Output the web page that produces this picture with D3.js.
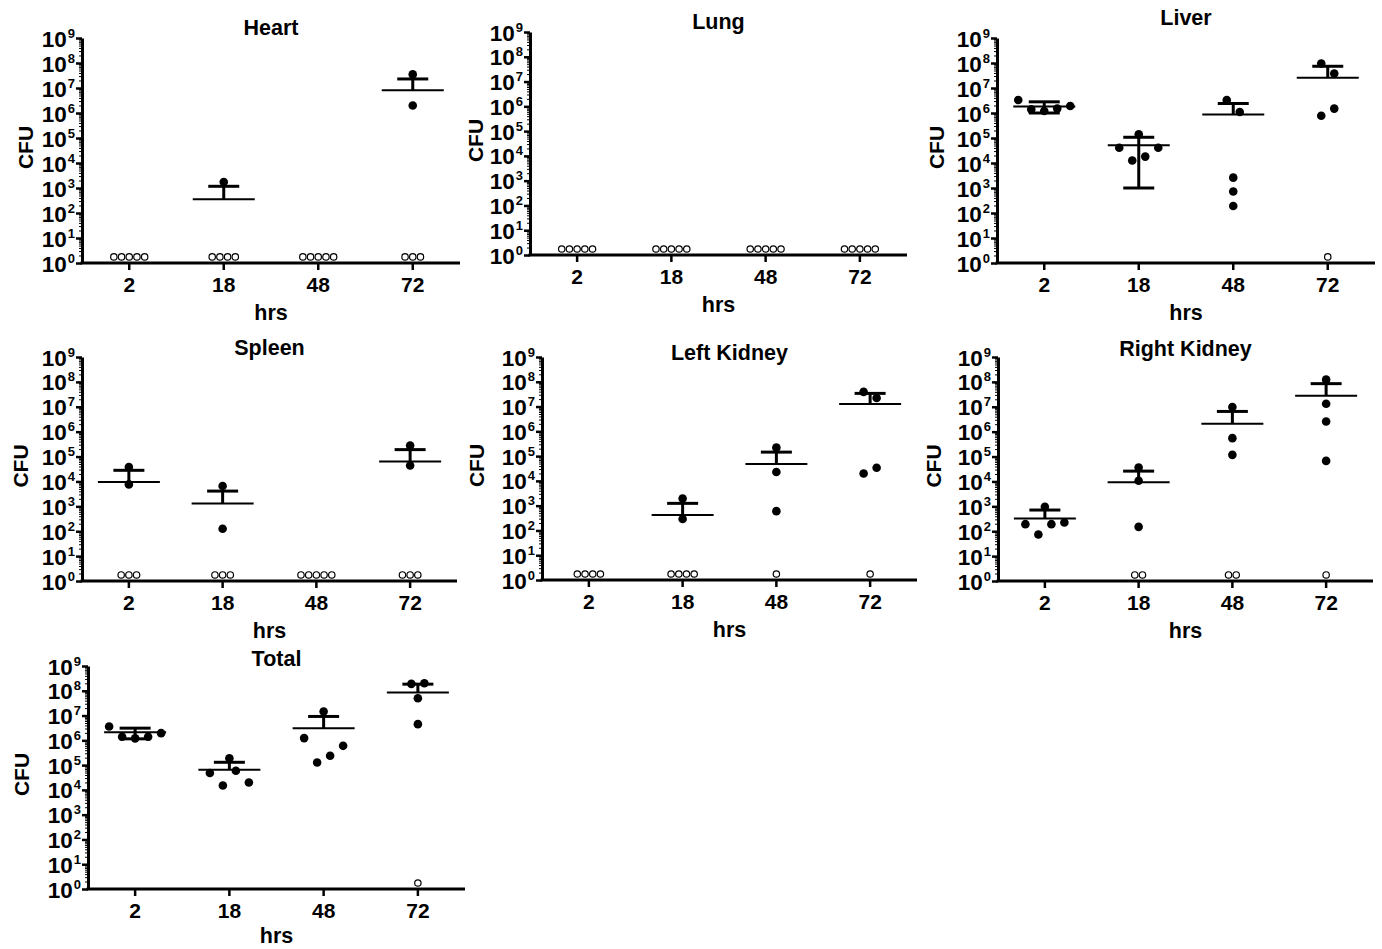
<!DOCTYPE html>
<html><head><meta charset="utf-8">
<script src="https://cdn.jsdelivr.net/npm/d3@7"></script>
<style>
body{margin:0;background:#fff;}
svg text{font-family:"Liberation Sans",Arial,sans-serif;font-weight:bold;fill:#000;}
</style>
</head><body>
<svg id="chart" width="1382" height="949"></svg>
<script>
// ---------------- data ----------------
const categories = ["2", "18", "48", "72"];
const xAxisLabel = "hrs";
const yAxisLabel = "CFU";
const yTickExponents = [0, 1, 2, 3, 4, 5, 6, 7, 8, 9];
const ndValue = 1.75; // culture-negative animals plotted just above 10^0

const panelTitles = ["Heart", "Lung", "Liver", "Spleen", "Left Kidney", "Right Kidney", "Total"];

const heartValues = [[], [1740], [], [3.5e7, 2.0e6]];
const heartND = [5, 4, 5, 3];
const heartMean = [null, 355, null, 8.1e6];
const heartUpper = [null, 1170, null, 2.3e7];
const heartLower = [null, null, null, null];

const lungValues = [[], [], [], []];
const lungND = [5, 5, 5, 5];
const lungMean = [null, null, null, null];
const lungUpper = [null, null, null, null];
const lungLower = [null, null, null, null];

const liverValues = [[3.3e6, 1.4e6, 1.2e6, 1.5e6, 1.9e6], [1.4e5, 4.1e4, 1.26e4, 1.8e4, 4.1e4], [3.3e6, 1.1e6, 2.6e3, 720, 190], [9.6e7, 3.8e7, 7.8e5, 1.5e6]];
const liverND = [0, 0, 0, 1];
const liverMean = [1.8e6, 5.1e4, 8.8e5, 2.6e7];
const liverUpper = [2.8e6, 1.07e5, 2.4e6, 7.4e7];
const liverLower = [1.0e6, 1.0e3, null, null];

const spleenValues = [[3.8e4, 7.6e3], [6.6e3, 126], [], [2.8e5, 4.4e4]];
const spleenND = [3, 3, 5, 3];
const spleenMean = [9.5e3, 1.3e3, null, 6.4e4];
const spleenUpper = [2.8e4, 4.1e3, null, 1.9e5];
const spleenLower = [null, null, null, null];

const leftKidneyValues = [[], [1960, 290], [2.2e5, 2.3e4, 600], [3.9e7, 2.2e7, 2.0e4, 3.4e4]];
const leftKidneyND = [4, 4, 1, 1];
const leftKidneyMean = [null, 420, 4.8e4, 1.26e7];
const leftKidneyUpper = [null, 1240, 1.45e5, 3.4e7];
const leftKidneyLower = [null, null, null, null];

const rightKidneyValues = [[960, 192, 74, 192, 225], [3.6e4, 1.07e4, 150], [9.8e6, 5.5e5, 1.17e5], [1.23e8, 1.32e7, 2.57e6, 6.7e4]];
const rightKidneyND = [0, 2, 2, 1];
const rightKidneyMean = [327, 9.3e3, 2.1e6, 2.8e7];
const rightKidneyUpper = [710, 2.6e4, 6.5e6, 8.5e7];
const rightKidneyLower = [null, null, null, null];

const totalValues = [[3.6e6, 1.4e6, 1.2e6, 1.4e6, 1.95e6], [1.9e5, 4.8e4, 1.5e4, 5.9e4, 2.0e4], [1.45e7, 1.23e6, 1.28e5, 2.4e5, 6.0e5], [1.9e8, 2.0e8, 5.0e7, 4.5e6]];
const totalND = [0, 0, 0, 1];
const totalMean = [2.1e6, 6.5e4, 3.1e6, 8.5e7];
const totalUpper = [3.1e6, 1.3e5, 9.2e6, 1.85e8];
const totalLower = [1.15e6, null, null, null];

// ---------------- layout (positions only) ----------------
const layout = [
  {x0: 82,  x1: 460,  yTop: 38,  yBot: 263, cfuOff: 49, titleDy: -3, hrsDy: 57},
  {x0: 530, x1: 907,  yTop: 32,  yBot: 255, cfuOff: 47, titleDy: -3, hrsDy: 57},
  {x0: 997, x1: 1375, yTop: 38,  yBot: 263, cfuOff: 53, titleDy: -13, hrsDy: 57},
  {x0: 82,  x1: 457,  yTop: 357, yBot: 581, cfuOff: 54, titleDy: -2, hrsDy: 57},
  {x0: 542, x1: 917,  yTop: 357, yBot: 580, cfuOff: 58, titleDy: 3, hrsDy: 57},
  {x0: 998, x1: 1373, yTop: 357, yBot: 581, cfuOff: 57, titleDy: -1, hrsDy: 57},
  {x0: 88,  x1: 465,  yTop: 666, yBot: 889, cfuOff: 59, titleDy: 0, hrsDy: 54}
];

const panels = [
  [heartValues, heartND, heartMean, heartUpper, heartLower],
  [lungValues, lungND, lungMean, lungUpper, lungLower],
  [liverValues, liverND, liverMean, liverUpper, liverLower],
  [spleenValues, spleenND, spleenMean, spleenUpper, spleenLower],
  [leftKidneyValues, leftKidneyND, leftKidneyMean, leftKidneyUpper, leftKidneyLower],
  [rightKidneyValues, rightKidneyND, rightKidneyMean, rightKidneyUpper, rightKidneyLower],
  [totalValues, totalND, totalMean, totalUpper, totalLower]
];

const svg = d3.select("#chart");
const majorVals = yTickExponents.map(e => Math.pow(10, e));
const minorVals = [];
for (let e = 0; e < 9; e++) for (let m = 2; m <= 9; m++) minorVals.push(m * Math.pow(10, e));

const ROW_THRESH = 12.5, ROW_SPACING = 13, R_FILLED = 4.3, R_OPEN = 3.2, OPEN_SPACING = 7.7;

function rowOffsets(vals, y) {
  const off = new Array(vals.length).fill(0);
  if (!vals.length) return off;
  const idx = vals.map((v, i) => i).sort((a, b) => vals[b] - vals[a]);
  const rows = [];
  let cur = [idx[0]];
  for (let k = 1; k < idx.length; k++) {
    if (Math.abs(y(vals[idx[k]]) - y(vals[idx[k - 1]])) < ROW_THRESH) cur.push(idx[k]);
    else { rows.push(cur); cur = [idx[k]]; }
  }
  rows.push(cur);
  rows.forEach(r => {
    r.sort((a, b) => a - b);
    r.forEach((i, j) => { off[i] = (j - (r.length - 1) / 2) * ROW_SPACING; });
  });
  return off;
}

panels.forEach((p, pi) => {
  const [vals, nd, mean, upper, lower] = p;
  const L = layout[pi];
  const g = svg.append("g");
  const y = d3.scaleLog().domain([1, 1e9]).range([L.yBot, L.yTop]);
  const x = d3.scaleBand().domain(categories).range([L.x0, L.x1]);
  const cx = c => x(c) + x.bandwidth() / 2;

  // minor y ticks
  const minorAxis = d3.axisLeft(y).tickValues(minorVals).tickSize(3).tickFormat("").tickSizeOuter(0);
  const gm = g.append("g").attr("transform", `translate(${L.x0},0)`).call(minorAxis);
  gm.select(".domain").remove();
  gm.selectAll("line").attr("stroke", "#000").attr("stroke-width", 1);

  // major y ticks
  const majorAxis = d3.axisLeft(y).tickValues(majorVals).tickSize(6).tickFormat("").tickSizeOuter(0);
  const gy = g.append("g").attr("transform", `translate(${L.x0},0)`).call(majorAxis);
  gy.select(".domain").attr("stroke", "#000").attr("stroke-width", 3);
  gy.selectAll("line").attr("stroke", "#000").attr("stroke-width", 2.5);
  gy.selectAll(".tick").each(function(d, i) {
    const t = d3.select(this).select("text")
      .attr("x", -7).attr("dy", null).attr("y", 8)
      .attr("text-anchor", "end").attr("font-size", 22.5).text(null);
    t.append("tspan").text("10");
    t.append("tspan").attr("font-size", 13).attr("dx", 1).attr("dy", -9).text(String(yTickExponents[i]));
  });

  // x axis
  const xAxis = d3.axisBottom(x).tickSize(7).tickSizeOuter(0);
  const gx = g.append("g").attr("transform", `translate(0,${L.yBot})`).call(xAxis);
  gx.select(".domain").attr("stroke", "#000").attr("stroke-width", 3)
    .attr("d", `M${L.x0 - 1.5},0H${L.x1}`);
  gx.selectAll("line").attr("stroke", "#000").attr("stroke-width", 2.5);
  gx.selectAll("text").attr("y", 29).attr("dy", null).attr("font-size", 21)
    .attr("font-family", null).attr("fill", "#000");
  gy.selectAll("text").attr("font-family", null).attr("fill", "#000");

  // labels
  const midX = (L.x0 + L.x1) / 2;
  g.append("text").attr("x", midX).attr("y", L.yTop + L.titleDy)
    .attr("text-anchor", "middle").attr("font-size", 21.5).text(panelTitles[pi]);
  g.append("text").attr("x", midX).attr("y", L.yBot + L.hrsDy)
    .attr("text-anchor", "middle").attr("font-size", 21.5).text(xAxisLabel);
  const cy = (L.yTop + L.yBot) / 2 - 3;
  g.append("text").attr("transform", `translate(${L.x0 - L.cfuOff},${cy}) rotate(-90)`)
    .attr("text-anchor", "middle").attr("font-size", 21).text(yAxisLabel);

  // mean + error bars
  categories.forEach((c, ci) => {
    if (mean[ci] == null) return;
    const xc = cx(c);
    const ym = y(mean[ci]);
    if (upper[ci] != null) {
      const yu = y(upper[ci]);
      g.append("line").attr("x1", xc).attr("x2", xc).attr("y1", ym).attr("y2", yu)
        .attr("stroke", "#000").attr("stroke-width", 3);
      g.append("line").attr("x1", xc - 15.5).attr("x2", xc + 15.5).attr("y1", yu).attr("y2", yu)
        .attr("stroke", "#000").attr("stroke-width", 3);
    }
    if (lower[ci] != null) {
      const yl = y(lower[ci]);
      g.append("line").attr("x1", xc).attr("x2", xc).attr("y1", ym).attr("y2", yl)
        .attr("stroke", "#000").attr("stroke-width", 3);
      g.append("line").attr("x1", xc - 15.5).attr("x2", xc + 15.5).attr("y1", yl).attr("y2", yl)
        .attr("stroke", "#000").attr("stroke-width", 3);
    }
    g.append("line").attr("x1", xc - 31).attr("x2", xc + 31).attr("y1", ym).attr("y2", ym)
      .attr("stroke", "#000").attr("stroke-width", 2);
  });

  // points
  categories.forEach((c, ci) => {
    const xc = cx(c);
    const v = vals[ci];
    const off = rowOffsets(v, y);
    g.selectAll(null).data(v).enter().append("circle")
      .attr("cx", (d, i) => xc + off[i]).attr("cy", d => y(d)).attr("r", R_FILLED)
      .attr("fill", "#000");
    const n = nd[ci];
    g.selectAll(null).data(d3.range(n)).enter().append("circle")
      .attr("cx", i => xc + (i - (n - 1) / 2) * OPEN_SPACING).attr("cy", y(ndValue))
      .attr("r", R_OPEN).attr("fill", "#fff").attr("stroke", "#000").attr("stroke-width", 1.2);
  });
});
</script>
</body></html>
